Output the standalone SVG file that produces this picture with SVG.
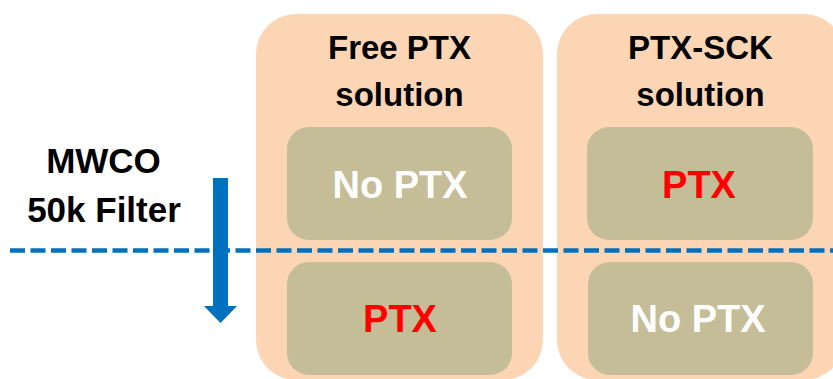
<svg xmlns="http://www.w3.org/2000/svg" width="833" height="379" viewBox="0 0 833 379">
<style>
  .outer { fill: #fcd5b5; }
  .inner { fill: #c4bd97; }
  text { font-family: "Liberation Sans", Arial, sans-serif; font-weight: bold; text-anchor: middle; }
  .title { font-size: 33px; fill: #000; }
  .label { font-size: 35px; fill: #000; }
  .white { font-size: 38px; fill: #ffffff; }
  .red { font-size: 38px; fill: #ff0000; }
</style>
<rect width="833" height="379" fill="#ffffff"/>
<g id="free-ptx">
  <rect class="outer" x="256" y="14" width="287" height="366" rx="40"/>
  <text class="title" x="399.5" y="59">Free PTX</text>
  <text class="title" x="399.5" y="106">solution</text>
</g>
<g id="ptx-sck">
  <rect class="outer" x="557" y="14" width="287" height="366" rx="40"/>
  <text class="title" x="700.5" y="59">PTX-SCK</text>
  <text class="title" x="700.5" y="106">solution</text>
</g>
<g id="free-top">
  <rect class="inner" x="287" y="127" width="225" height="113" rx="22"/>
  <text class="white" x="400" y="198">No PTX</text>
</g>
<g id="free-bottom">
  <rect class="inner" x="287" y="262" width="225" height="113" rx="22"/>
  <text class="red" x="400" y="332">PTX</text>
</g>
<g id="sck-top">
  <rect class="inner" x="587" y="127" width="226" height="113" rx="22"/>
  <text class="red" x="699" y="198">PTX</text>
</g>
<g id="sck-bottom">
  <rect class="inner" x="588" y="262" width="225" height="113" rx="22"/>
  <text class="white" x="698" y="332">No PTX</text>
</g>
<g id="filter-label">
  <text class="label" x="103.5" y="173">MWCO</text>
  <text class="label" x="104" y="222">50k Filter</text>
</g>
<g id="connectors">
  <line x1="10" y1="250.5" x2="833" y2="250.5" stroke="#0070c0" stroke-width="4.5" stroke-dasharray="15 5.5"/>
  <polygon points="213,178 228,178 228,306 237,306 220.5,323 204,306 213,306" fill="#0070c0"/>
</g>
</svg>
